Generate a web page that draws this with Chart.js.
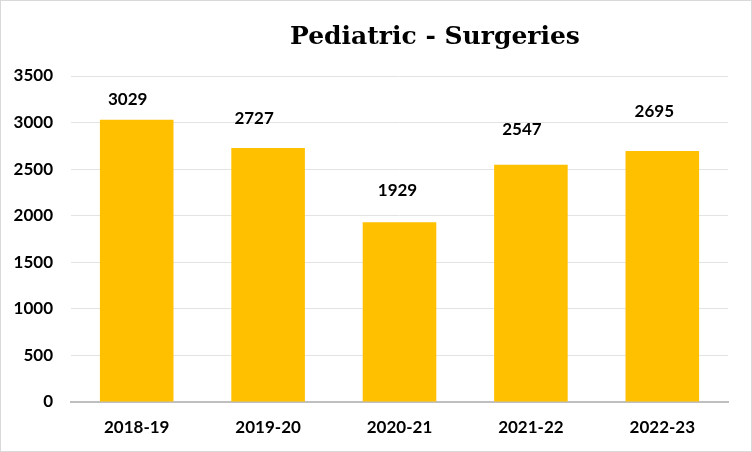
<!DOCTYPE html>
<html lang="en">
<head>
<meta charset="UTF-8">
<title>Pediatric - Surgeries</title>
<script src="https://cdn.jsdelivr.net/npm/chart.js"></script>
<style>
  html, body { margin: 0; padding: 0; background: #fff; }
  .box { width: 750px; height: 450px; border: 1px solid #d9d9d9; position: relative; }
</style>
</head>
<body>
<div class="box"><canvas id="grafico" width="750" height="450"></canvas></div>
<script>
const anos = ['2018-19', '2019-20', '2020-21', '2021-22', '2022-23'];
const cirurgias = [3029, 2727, 1929, 2547, 2695];
const ticksY = [0, 500, 1000, 1500, 2000, 2500, 3000, 3500];

// labels sit a bit above the bars, like in the original slide
const rotulos = {
  id: 'rotulos',
  afterDatasetsDraw(chart, args, opts) {
    const ctx = chart.ctx;
    const meta = chart.getDatasetMeta(0);
    ctx.save();
    ctx.font = 'bold 17px Lato';
    ctx.fillStyle = '#000';
    ctx.textAlign = 'center';
    ctx.textBaseline = 'middle';
    meta.data.forEach((bar, i) => {
      ctx.fillText(cirurgias[i], bar.x + opts.dx[i], bar.y - opts.dy[i]);
    });
    ctx.restore();
  }
};

const titulo = {
  id: 'titulo',
  afterDraw(chart) {
    const ctx = chart.ctx;
    ctx.save();
    ctx.font = 'bold 25px "DejaVu Serif"';
    ctx.fillStyle = '#000';
    ctx.textAlign = 'center';
    ctx.textBaseline = 'middle';
    ctx.fillText('Pediatric - Surgeries', 434, 36);
    ctx.restore();
  }
};

new Chart(document.getElementById('grafico'), {
  type: 'bar',
  data: {
    labels: anos,
    datasets: [{
      data: cirurgias,
      backgroundColor: '#ffc000',
      categoryPercentage: 1,
      barPercentage: 0.56
    }]
  },
  options: {
    responsive: false,
    animation: false,
    layout: { padding: { top: 75, left: 13, right: 23, bottom: 0 } },
    plugins: {
      legend: { display: false },
      tooltip: { enabled: false },
      rotulos: { dx: [-9, -14, -2, -9, -8], dy: [20, 29, 32, 35, 39] }
    },
    scales: {
      y: {
        min: 0, max: 3500,
        afterBuildTicks(axis) { axis.ticks = ticksY.map(v => ({ value: v })); },
        afterFit(axis) { axis.width = 57; },
        grid: { color: '#e3e3e3', drawTicks: false },
        border: { display: false },
        ticks: { padding: 18, color: '#000', font: { family: 'Lato', weight: 'bold', size: 17 },
                 callback: v => String(v) }
      },
      x: {
        afterFit(axis) { axis.height = 49; },
        grid: { display: false, drawTicks: false },
        border: { color: '#bfbfbf', width: 2 },
        ticks: { padding: 15, color: '#000', font: { family: 'Lato', weight: 'bold', size: 17 } }
      }
    }
  },
  plugins: [rotulos, titulo]
});
</script>
</body>
</html>
